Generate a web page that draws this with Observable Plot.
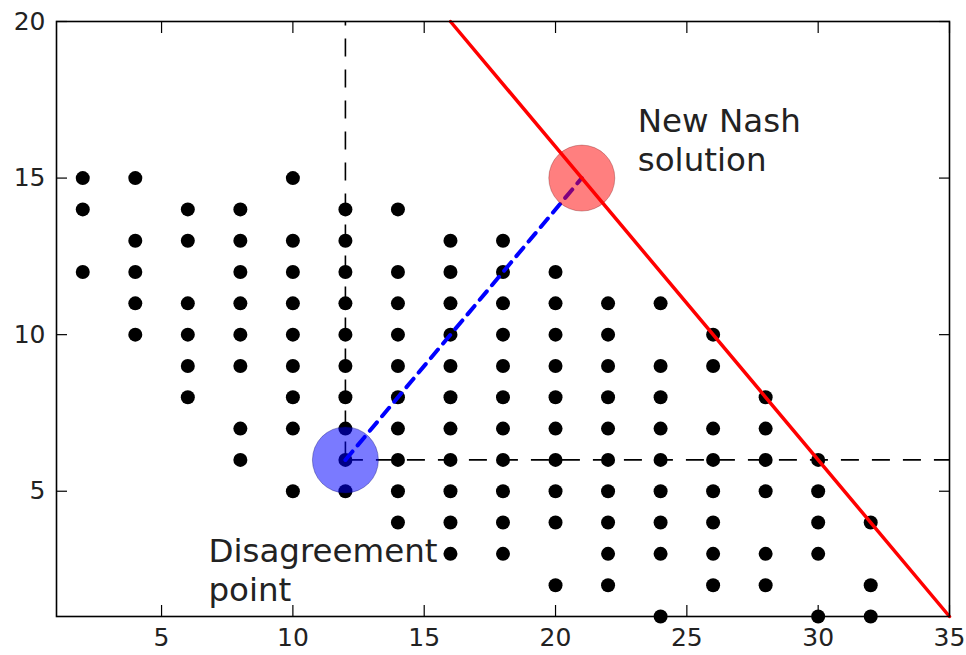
<!DOCTYPE html>
<html>
<head>
<meta charset="utf-8">
<script src="https://cdn.jsdelivr.net/npm/d3@7"></script>
<script src="https://cdn.jsdelivr.net/npm/@observablehq/plot@0.6"></script>
<style>
  html, body { margin: 0; padding: 0; background: white; }
  #chart svg { display: block; }
</style>
</head>
<body>
<div id="chart"></div>
<script>
// Feasible outcomes: x columns and the y values present in each column
const columnsX = [2, 4, 6, 8, 10, 12, 14, 16, 18, 20, 22, 24, 26, 28, 30, 32];
const columnsY = [
  [15, 14, 12],
  [15, 13, 12, 11, 10],
  [14, 13, 11, 10, 9, 8],
  [14, 13, 12, 11, 10, 9, 7, 6],
  [15, 13, 12, 11, 10, 9, 8, 7, 5],
  [14, 13, 12, 11, 10, 9, 8, 7, 6, 5],
  [14, 12, 11, 10, 9, 8, 7, 6, 5, 4],
  [13, 12, 11, 10, 9, 8, 7, 6, 5, 4, 3],
  [13, 12, 11, 10, 9, 8, 7, 6, 5, 4, 3],
  [12, 11, 10, 9, 8, 7, 6, 5, 4, 2],
  [11, 10, 9, 8, 7, 6, 5, 4, 3, 2],
  [11, 9, 8, 7, 6, 5, 4, 3, 1],
  [10, 9, 7, 6, 5, 4, 3, 2],
  [8, 7, 6, 5, 3, 2],
  [6, 5, 4, 3, 1],
  [4, 2, 1]
];
const disagreement = [{x: 12, y: 6}];
const nash = [{x: 21, y: 15}];
const frontierX = [16, 35];
const frontierY = [20, 1];
const xDomain = [1, 35];
const yDomain = [1, 20];
const xTicks = [5, 10, 15, 20, 25, 30, 35];
const yTicks = [5, 10, 15, 20];
const labelNash = "New Nash\nsolution";
const labelDisagree = "Disagreement\npoint";

const points = columnsX.flatMap((x, i) => columnsY[i].map(y => ({x, y})));
const frontier = frontierX.map((x, i) => ({x, y: frontierY[i]}));
const bargainPath = [...disagreement, ...nash];

const font = "DejaVu Sans, Liberation Sans, sans-serif";

const chart = Plot.plot({
  width: 966,
  height: 655,
  marginLeft: 56,
  marginRight: 17,
  marginTop: 21,
  marginBottom: 39,
  x: {domain: xDomain},
  y: {domain: yDomain},
  style: {fontFamily: font, background: "white", color: "#222", overflow: "visible"},
  marks: [
    Plot.dot(points, {x: "x", y: "y", r: 7, fill: "black", stroke: "none"}),
    Plot.ruleX(disagreement, {x: "x", y1: "y", y2: () => yDomain[1], stroke: "black", strokeWidth: 1.6, strokeDasharray: "18,13"}),
    Plot.ruleY(disagreement, {y: "y", x1: "x", x2: () => xDomain[1], stroke: "black", strokeWidth: 1.6, strokeDasharray: "18,13"}),
    Plot.line(bargainPath, {x: "x", y: "y", stroke: "#0000ff", strokeWidth: 4, strokeDasharray: "11,8"}),
    Plot.dot(disagreement, {x: "x", y: "y", r: 33, fill: "#0000ff", fillOpacity: 0.52, stroke: "#000066", strokeOpacity: 0.35, strokeWidth: 1}),
    Plot.dot(nash, {x: "x", y: "y", r: 33, fill: "#ff0000", fillOpacity: 0.5, stroke: "#660000", strokeOpacity: 0.3, strokeWidth: 1}),
    Plot.line(frontier, {x: "x", y: "y", stroke: "#ff0000", strokeWidth: 3.5}),
    Plot.text(nash, {x: "x", y: "y", text: () => labelNash, textAnchor: "start", lineAnchor: "top", lineHeight: 1.2, dx: 56, dy: -74, fontSize: 32.5, fill: "#222"}),
    Plot.text(disagreement, {x: "x", y: "y", text: () => labelDisagree, textAnchor: "start", lineAnchor: "top", lineHeight: 1.2, dx: -137, dy: 74, fontSize: 32.5, fill: "#222"}),
    Plot.frame({stroke: "black", strokeWidth: 1.6}),
    Plot.axisX(xTicks, {anchor: "bottom", tickSize: -11, tickFormat: () => "", label: null, stroke: "black", strokeWidth: 1.2}),
    Plot.axisX(xTicks, {anchor: "top", tickSize: -11, tickFormat: () => "", label: null, stroke: "black", strokeWidth: 1.2}),
    Plot.axisY(yTicks, {anchor: "left", tickSize: -11, tickFormat: () => "", label: null, stroke: "black", strokeWidth: 1.2}),
    Plot.axisY(yTicks, {anchor: "right", tickSize: -11, tickFormat: () => "", label: null, stroke: "black", strokeWidth: 1.2}),
    Plot.axisX(xTicks, {anchor: "bottom", tickSize: 0, tickPadding: 12, fontSize: 25, label: null, fill: "#222"}),
    Plot.axisY(yTicks, {anchor: "left", tickSize: 0, tickPadding: 11, fontSize: 25, label: null, fill: "#222"})
  ]
});
document.getElementById("chart").appendChild(chart);
</script>
</body>
</html>
